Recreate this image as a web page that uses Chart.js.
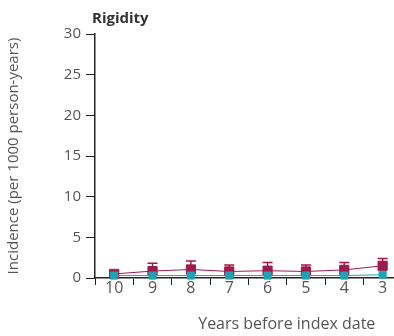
<!DOCTYPE html>
<html>
<head>
<meta charset="utf-8">
<script src="https://cdn.jsdelivr.net/npm/chart.js@4.4.0/dist/chart.umd.min.js"></script>
<style>
  html, body { margin: 0; padding: 0; background: #fff; overflow: hidden; }
  #wrap { width: 394px; height: 336px; overflow: hidden; }
  #box { width: 486px; height: 336px; }
</style>
</head>
<body>
<div id="wrap"><div id="box"><canvas id="chart"></canvas></div></div>
<script>
// years before index date (axis runs on past the right edge)
const years = ['10', '9', '8', '7', '6', '5', '4', '3', '2', '1'];
const casesRate = [0.5, 0.85, 1.05, 0.8, 0.9, 0.8, 1.0, 1.5, null, null];
const casesUpper = [0.9, 1.8, 2.1, 1.6, 1.9, 1.6, 1.9, 2.4, null, null];
const controlsRate = [0.3, 0.3, 0.3, 0.3, 0.3, 0.3, 0.3, 0.4, null, null];
const yTicks = [0, 5, 10, 15, 20, 25, 30];

const crimson = '#9e1a4c';
const teal = '#1fa2b4';
const grey = '#555';

// upper error bars for the cases series (behind the markers)
const errorBars = {
    id: 'errorBars',
    beforeDatasetsDraw(chart) {
        const ctx = chart.ctx;
        const x = chart.scales.x;
        const y = chart.scales.y;
        ctx.save();
        ctx.strokeStyle = crimson;
        ctx.lineWidth = 1.5;
        casesUpper.forEach((v, i) => {
            if (v == null) return;
            const px = x.getPixelForValue(i);
            const top = y.getPixelForValue(v);
            const mid = y.getPixelForValue(casesRate[i]);
            ctx.beginPath();
            ctx.moveTo(px, mid);
            ctx.lineTo(px, top);
            ctx.moveTo(px - 5, top);
            ctx.lineTo(px + 5, top);
            ctx.stroke();
        });
        ctx.restore();
    },
    afterDraw(chart) {
        const ctx = chart.ctx;
        ctx.save();
        ctx.fillStyle = '#333';
        ctx.font = 'bold 15px "Open Sans"';
        ctx.textBaseline = 'top';
        ctx.fillText('Rigidity', chart.chartArea.left - 3, 11);
        ctx.restore();
    }
};

new Chart(document.getElementById('chart'), {
    type: 'line',
    data: {
        labels: years,
        datasets: [
            {
                label: 'Controls',
                data: controlsRate,
                borderColor: teal,
                backgroundColor: teal,
                borderWidth: 1,
                pointStyle: 'rect',
                pointRadius: 5,
                clip: false
            },
            {
                label: 'Cases',
                data: casesRate,
                borderColor: crimson,
                backgroundColor: crimson,
                borderWidth: 1,
                pointStyle: 'rect',
                pointRadius: 6.5,
                clip: false
            }
        ]
    },
    options: {
        responsive: true,
        maintainAspectRatio: false,
        animation: false,
        layout: { padding: { top: 34, left: 4, right: 0, bottom: 0 } },
        plugins: {
            legend: { display: false },
            tooltip: { enabled: false }
        },
        scales: {
            x: {
                type: 'category',
                offset: true,
                afterFit: axis => { axis.height = 58; },
                grid: {
                    offset: true,
                    drawOnChartArea: false,
                    tickLength: 7,
                    color: '#222'
                },
                border: { color: '#222', width: 1.5 },
                ticks: {
                    color: grey,
                    font: { family: 'Open Sans', size: 16 },
                    padding: -6,
                    maxRotation: 0,
                    autoSkip: false
                },
                title: {
                    display: true,
                    text: 'Years before index date',
                    color: grey,
                    font: { family: 'Open Sans', size: 16 },
                    padding: { top: 0, bottom: 2 }
                }
            },
            y: {
                min: 0,
                max: 30,
                afterFit: axis => { axis.width = 91; },
                afterBuildTicks: axis => { axis.ticks = yTicks.map(v => ({ value: v })); },
                grid: {
                    drawOnChartArea: false,
                    tickLength: 9,
                    color: '#222'
                },
                border: { color: '#222', width: 1.5 },
                ticks: {
                    color: grey,
                    font: { family: 'Open Sans', size: 15 },
                    padding: 5
                },
                title: {
                    display: true,
                    text: 'Incidence (per 1000 person-years)',
                    color: grey,
                    font: { family: 'Open Sans', size: 15 },
                    padding: { top: 1, bottom: 0 }
                }
            }
        }
    },
    plugins: [errorBars]
});
</script>
</body>
</html>
